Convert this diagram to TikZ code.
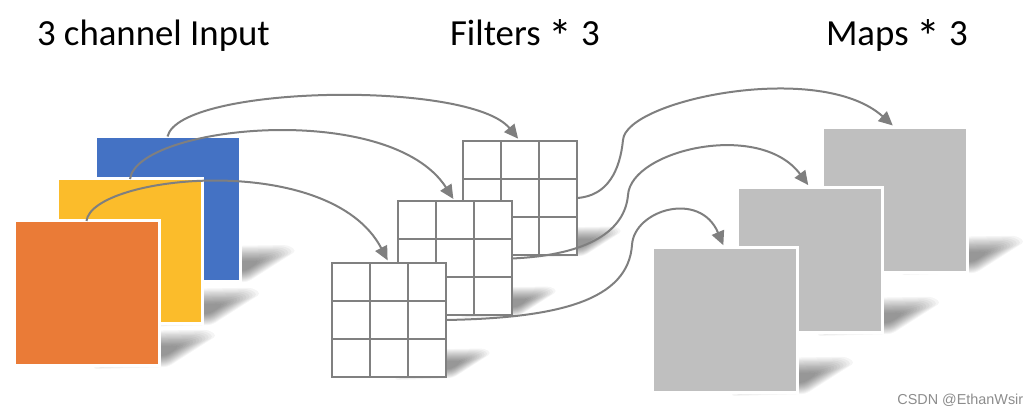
\documentclass[tikz,border=0pt]{standalone}
\usepackage{fontspec}
\setmainfont{Carlito}
\newfontfamily\wmfont{Liberation Sans}
\usetikzlibrary{arrows.meta,calc}
\definecolor{cblue}{HTML}{4472C4}
\definecolor{cyellow}{HTML}{FBBC2B}
\definecolor{corange}{HTML}{EA7B37}
\definecolor{mapgray}{HTML}{BFBFBF}
\definecolor{gridgray}{HTML}{808080}
\definecolor{arrowgray}{HTML}{7F7F7F}
\definecolor{wmgray}{HTML}{8C8C8C}
% soft shadow band rising from the bottom-right corner (#1,#2) of a square of side #3
\newcommand{\dropshadow}[3]{%
  \foreach \s in {1.0,0.94,0.88,0.82,0.76,0.70,0.64,0.58,0.52,0.46,0.40,0.34,0.28}{%
    \fill[black, fill opacity=0.04, rounded corners=2pt]
      ({#1+0.04*#3-\s*0.5*#3},{#2-0.1*#3+\s*(0.1*#3+3)}) --
      ({#1+0.04*#3+\s*0.02*#3},{#2-0.1*#3+\s*(0.1*#3+1)}) --
      ({#1+0.04*#3+\s*0.36*#3},{#2-0.1*#3-\s*0.11*#3}) --
      ({#1+0.04*#3+\s*0.3*#3},{#2-0.1*#3-\s*0.15*#3}) --
      ({#1+0.04*#3-\s*0.3*#3},{#2-0.1*#3-\s*0.14*#3}) -- cycle;
  }}
\tikzset{
  layerbox/.style={inner sep=0pt, outer sep=0pt, minimum size=72.5pt,
    draw=white, line width=1.5pt},
  mapbox/.style={layerbox, fill=mapgray},
  filterbox/.style={inner sep=0pt, outer sep=0pt, minimum size=57pt,
    fill=white, draw=gridgray, line width=1pt,
    path picture={
      \foreach \d in {-9.5pt,9.5pt}{
        \draw[gridgray,line width=1pt]
          ([xshift=\d]path picture bounding box.north) --
          ([xshift=\d]path picture bounding box.south);
        \draw[gridgray,line width=1pt]
          ([yshift=\d]path picture bounding box.west) --
          ([yshift=\d]path picture bounding box.east);
      }}},
  link/.style={draw=arrowgray, line width=1pt,
    -{Triangle[length=7pt,width=6.5pt]}, shorten >=1.5pt},
  title/.style={font=\fontsize{18.4}{22}\selectfont, anchor=base west,
    inner sep=0pt, outer sep=0pt}
}
\newcommand{\lowstar}{\raisebox{-0.2em}{\scalebox{1.3}{*}}}
\begin{document}
\begin{tikzpicture}[x=0.5pt,y=-0.5pt]
\useasboundingbox (0,0) rectangle (1032,415);
% titles
\node[title] (tin) at (37,46) {3 channel Input};
\node[title] (tfi) at (450,46) {Filters \lowstar{} 3};
\node[title] (tma) at (826,46) {Maps \lowstar{} 3};
% shadows
\dropshadow{239}{281}{144}
\dropshadow{203}{324}{145}
\dropshadow{159}{366}{145}
\dropshadow{577}{255}{114}
\dropshadow{512}{315}{114}
\dropshadow{446}{377}{114}
\dropshadow{967}{272}{145}
\dropshadow{883}{333}{145}
\dropshadow{797}{393}{145}
% input channels
\node[layerbox, fill=cblue] (inB) at (167.5,209) {};
\node[layerbox, fill=cyellow] (inY) at (130,251.5) {};
\node[layerbox, fill=corange] (inO) at (86.5,293.5) {};
% filters
\node[filterbox] (f3) at (520,198) {};
\node[filterbox] (f2) at (455,258.5) {};
\node[filterbox] (f1) at (389,320) {};
% maps
\node[mapbox] (m3) at (895,200) {};
\node[mapbox] (m2) at (810,260) {};
\node[mapbox] (m1) at (724.5,320.5) {};
% connectors
\draw[link] (inB.north) .. controls (180,85) and (470,80) .. (f3.north);
\draw[link] (inY.north) .. controls (138,125) and (390,100) .. (f2.north);
\draw[link] (inO.north) .. controls (92,175) and (330,150) .. (f1.north);
\draw[link] (f3.east) .. controls (608,196) and (620,170) .. (623,140)
  .. controls (626,100) and (820,60) .. (m3.north);
\draw[link] (f2.east) .. controls (590,255) and (625,230) .. (628,195)
  .. controls (631,150) and (760,120) .. (m2.north);
\draw[link] (f1.east) .. controls (560,318) and (628,300) .. (632,245)
  .. controls (634,210) and (700,190) .. (m1.north);
% watermark
\node[font=\wmfont\fontsize{7.2}{8}\selectfont, text=wmgray, anchor=base west,
  inner sep=0pt] (wm) at (897,405) {CSDN @EthanWsir};
\end{tikzpicture}
\end{document}
